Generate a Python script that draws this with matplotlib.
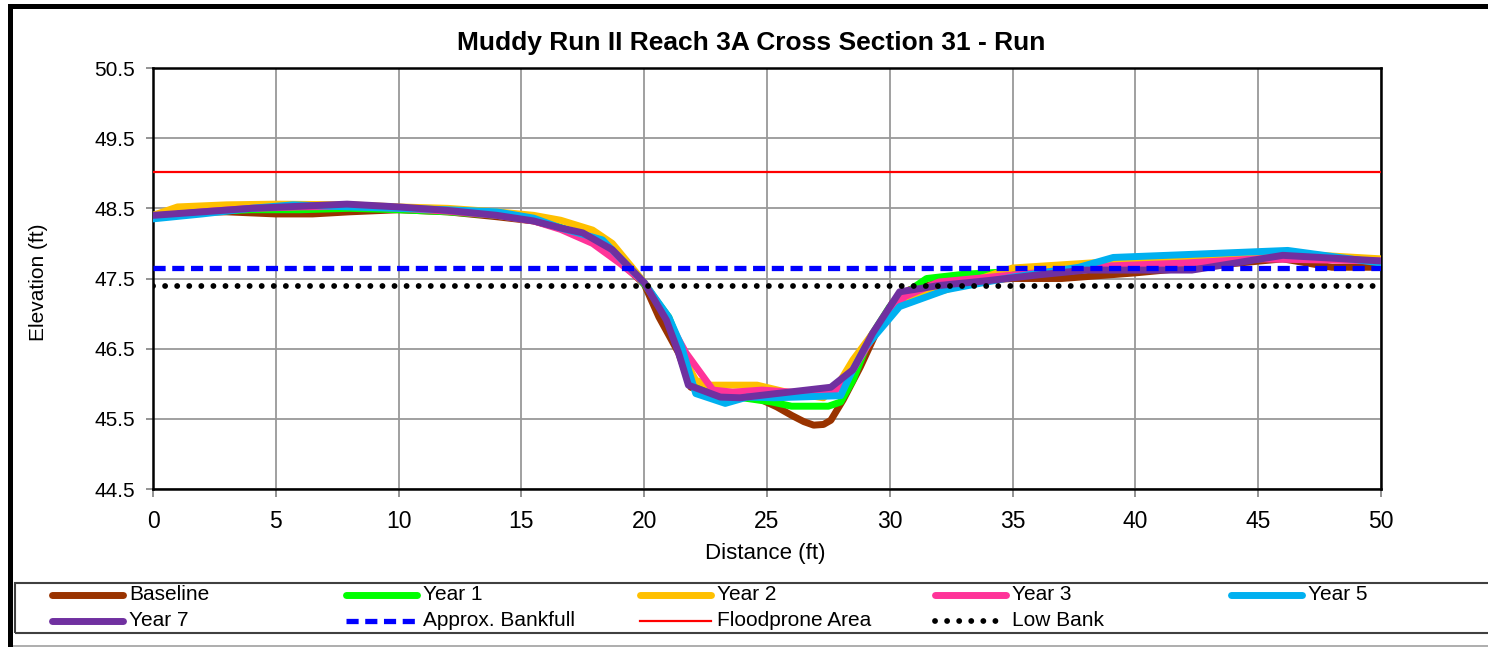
import matplotlib
matplotlib.use("Agg")
import matplotlib.pyplot as plt
from matplotlib.lines import Line2D
from matplotlib.patches import Rectangle

plt.rcParams['font.family'] = ['Liberation Sans', 'DejaVu Sans']

# ---------------- data ----------------
base_x = [0, 1, 3, 5, 6.5, 8, 10, 12, 14, 15.5, 17, 18, 19, 20, 20.6, 21.4, 21.9, 23.0, 24.6, 25.4,
          26.0, 26.5, 26.9, 27.3, 27.6, 28.1, 28.8, 29.5, 30.1, 30.8, 32, 35, 37, 40, 43, 46, 48, 50]
base_y = [48.40, 48.44, 48.45, 48.42, 48.42, 48.45, 48.48, 48.45, 48.38, 48.32, 48.18, 48.0, 47.75,
          47.42, 46.95, 46.44, 45.95, 45.81, 45.80, 45.67, 45.55, 45.46, 45.41, 45.42, 45.48, 45.77,
          46.24, 46.77, 47.15, 47.34, 47.44, 47.50, 47.50, 47.58, 47.68, 47.78, 47.66, 47.66]

y1_x = [0, 2, 4, 6, 8, 10, 12, 14, 16, 17.5, 18.5, 19.5, 20, 21, 21.5, 22, 23, 24, 25.2, 26, 27.5,
        28, 28.5, 29.2, 30, 31, 31.5, 33, 35, 38, 40, 43, 46, 50]
y1_y = [48.40, 48.45, 48.48, 48.48, 48.50, 48.48, 48.45, 48.40, 48.30, 48.12, 47.92, 47.62, 47.42,
        46.95, 46.50, 46.00, 45.82, 45.80, 45.74, 45.68, 45.68, 45.74, 46.05, 46.66, 47.10, 47.38,
        47.50, 47.56, 47.60, 47.66, 47.70, 47.74, 47.80, 47.75]

y2_x = [0, 1, 3, 5, 8, 10, 12, 14, 15.5, 16.6, 17.9, 18.7, 19.5, 20.1, 20.9, 21.5, 22.1, 22.6, 24.6,
        25.8, 27.3, 28, 28.5, 29.5, 30.4, 32.3, 35, 39, 46, 50]
y2_y = [48.40, 48.52, 48.55, 48.56, 48.55, 48.52, 48.50, 48.45, 48.40, 48.33, 48.19, 48.00, 47.66,
        47.40, 46.95, 46.44, 46.05, 45.98, 45.98, 45.88, 45.80, 46.05, 46.34, 46.81, 47.19, 47.34,
        47.65, 47.74, 47.86, 47.78]

y3_x = [0, 2, 4, 6, 8, 10, 12, 14, 15.5, 16.6, 17.9, 19, 20, 20.9, 21.7, 22.8, 23.6, 24.8, 26, 27.8,
        28.5, 29.3, 30.6, 32, 35, 39, 42, 45, 50]
y3_y = [48.38, 48.45, 48.50, 48.52, 48.53, 48.50, 48.46, 48.40, 48.32, 48.20, 48.00, 47.72, 47.44,
        46.95, 46.44, 45.91, 45.88, 45.91, 45.88, 45.91, 46.20, 46.66, 47.24, 47.45, 47.55, 47.68,
        47.72, 47.78, 47.75]

y5_x = [0, 2, 4, 5.7, 8, 10, 12, 14, 15.5, 16.6, 18.3, 20, 21.0, 21.5, 22.1, 23.3, 24.2, 25.3, 28,
        28.5, 29, 30.4, 32.3, 35, 37.7, 39.1, 42, 46.2, 50]
y5_y = [48.35, 48.42, 48.50, 48.55, 48.52, 48.50, 48.48, 48.45, 48.36, 48.22, 48.05, 47.44, 46.95,
        46.55, 45.86, 45.72, 45.81, 45.80, 45.83, 46.20, 46.52, 47.10, 47.34, 47.52, 47.66, 47.80,
        47.84, 47.90, 47.72]

y7_x = [0, 2, 4, 6, 7.9, 10, 12, 14, 15.5, 16.6, 17.5, 18.7, 20, 20.9, 21.4, 21.8, 23.1, 23.9, 27.6,
        28.5, 29.3, 30.4, 32, 34, 36, 38, 42.3, 46, 50]
y7_y = [48.40, 48.45, 48.50, 48.53, 48.56, 48.52, 48.47, 48.40, 48.32, 48.22, 48.15, 47.91, 47.44,
        46.91, 46.44, 45.98, 45.81, 45.80, 45.95, 46.20, 46.72, 47.31, 47.40, 47.47, 47.55, 47.62,
        47.62, 47.83, 47.75]

ref_x = [0, 50]
bankfull_y = [47.65, 47.65]
floodprone_y = [49.02, 49.02]
lowbank_y = [47.39, 47.39]

series_labels = ["Baseline", "Year 1", "Year 2", "Year 3", "Year 5", "Year 7"]
series_colors = ["#993300", "#00FF00", "#FFC000", "#FF3399", "#00B0F0", "#7030A0"]

x_ticks = [0, 5, 10, 15, 20, 25, 30, 35, 40, 45, 50]
y_ticks = [44.5, 45.5, 46.5, 47.5, 48.5, 49.5, 50.5]

title = "Muddy Run II Reach 3A Cross Section 31 - Run"

# ---------------- figure ----------------
W, H = 1488, 647
fig = plt.figure(figsize=(W / 100, H / 100), dpi=100)
ax = fig.add_axes([153 / W, 1 - 489 / H, (1381 - 153) / W, (489 - 68) / H])

series = [(base_x, base_y), (y1_x, y1_y), (y2_x, y2_y), (y3_x, y3_y), (y5_x, y5_y), (y7_x, y7_y)]
for (sx, sy), lab, col in zip(series, series_labels, series_colors):
    ax.plot(sx, sy, color=col, lw=5, solid_joinstyle='round', solid_capstyle='round', label=lab, zorder=3)

ax.plot(ref_x, bankfull_y, color="#0000FF", lw=3.8, linestyle=(0, (2.3, 1.25)), dash_capstyle='butt', zorder=4)
ax.plot(ref_x, floodprone_y, color="#FF0000", lw=1.6, zorder=4)
ax.plot(ref_x, lowbank_y, color="#000000", lw=4.2, linestyle=(0, (0.01, 2.06)), dash_capstyle='round', zorder=4)

ax.set_xlim(0, 50)
ax.set_ylim(44.5, 50.5)
ax.set_xticks(x_ticks)
ax.set_yticks(y_ticks)
ax.set_xticklabels([str(v) for v in x_ticks])
ax.set_yticklabels([f"{v:.1f}" for v in y_ticks])
ax.grid(True, color="#999999", lw=1.3, zorder=0)
ax.set_axisbelow(True)
for s in ax.spines.values():
    s.set_color("black")
    s.set_linewidth(1.8)
ax.tick_params(axis='x', labelsize=16.5, length=6, color="#808080", width=1.2, pad=9, direction='out')
ax.tick_params(axis='y', labelsize=15, length=5, color="#808080", width=1.2, pad=8, direction='out')

fig.text(751 / W, 1 - 43 / H, title, ha='center', va='center', fontsize=19, fontweight='bold')
fig.text(765 / W, 1 - 553 / H, "Distance (ft)", ha='center', va='center', fontsize=16)
fig.text(38 / W, 1 - 282 / H, "Elevation (ft)", ha='center', va='center', fontsize=15, rotation=90)

# outer chart frame
fig.add_artist(Rectangle((9.5 / W, -0.1), 1.2, 1 + 0.1 - 5.5 / H, transform=fig.transFigure,
                         fill=False, edgecolor='black', lw=3.6, zorder=10))
fig.add_artist(Line2D([12 / W, 1], [1 - 645.5 / H] * 2, transform=fig.transFigure, color="#a0a0a0", lw=1.2))

# legend box
fig.add_artist(Rectangle((15 / W, 1 - 633 / H), 1.2, 50 / H, transform=fig.transFigure,
                         fill=False, edgecolor="#404040", lw=1.5, zorder=10))

col_starts = [52, 346, 640, 935, 1231]
row_y = [595, 621]
hlen = 71
entries = [
    ("Baseline", dict(color=series_colors[0], lw=5, solid_capstyle='round')),
    ("Year 1", dict(color=series_colors[1], lw=5, solid_capstyle='round')),
    ("Year 2", dict(color=series_colors[2], lw=5, solid_capstyle='round')),
    ("Year 3", dict(color=series_colors[3], lw=5, solid_capstyle='round')),
    ("Year 5", dict(color=series_colors[4], lw=5, solid_capstyle='round')),
    ("Year 7", dict(color=series_colors[5], lw=5, solid_capstyle='round')),
    ("Approx. Bankfull", dict(color="#0000FF", lw=3.8, linestyle=(0, (2.3, 1.25)), dash_capstyle='butt')),
    ("Floodprone Area", dict(color="#FF0000", lw=1.6)),
    ("Low Bank", dict(color="black", lw=4.2, linestyle=(0, (0.01, 2.06)), dash_capstyle='round')),
]
for i, (lab, kw) in enumerate(entries):
    r, c = divmod(i, 5)
    x0 = col_starts[c]
    yy = 1 - row_y[r] / H
    fig.add_artist(Line2D([x0 / W, (x0 + hlen) / W], [yy, yy], transform=fig.transFigure, **kw))
    fig.text((x0 + hlen + 6) / W, yy, lab, ha='left', va='center', fontsize=15)

fig.savefig("out.png", dpi=100)
